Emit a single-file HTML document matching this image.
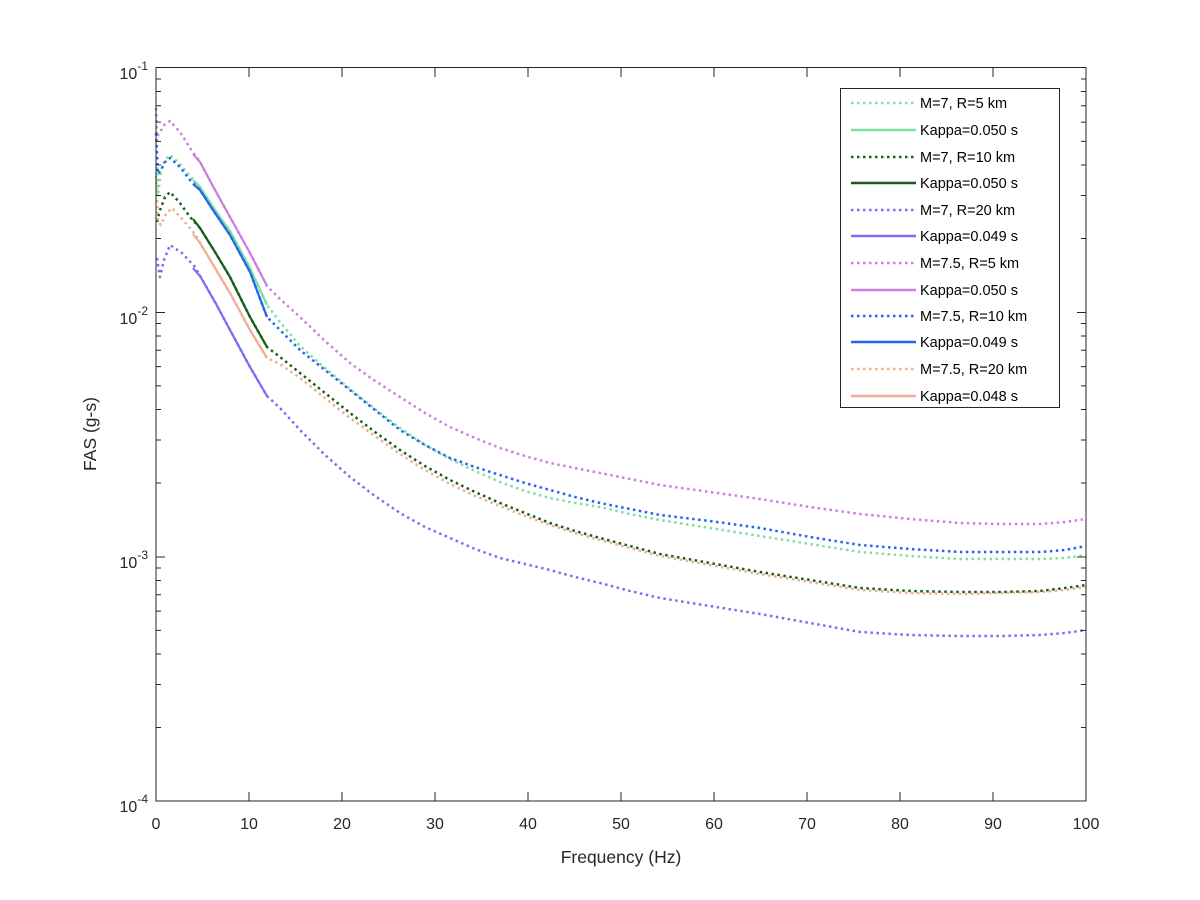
<!DOCTYPE html>
<html><head><meta charset="utf-8"><style>
html,body{margin:0;padding:0;background:#fff;}
svg{display:block;font-family:"Liberation Sans",Arial,sans-serif;}
</style></head><body>
<svg width="1200" height="900" viewBox="0 0 1200 900" xmlns="http://www.w3.org/2000/svg">
<rect width="1200" height="900" fill="#fff"/>
<g fill="none" stroke-linejoin="round">
<!-- solid segments -->
<polyline stroke="#cc7fe0" stroke-width="2.2" points="193,154 200,162 215,190 230,217 250,253 267,286"/>
<polyline stroke="#7ee0a0" stroke-width="2.2" points="193,180 200,187 215,210 230,231 250,268 267,305"/>
<polyline stroke="#2266ee" stroke-width="2.2" points="193,184 200,190 215,213 230,235 250,272 267,317"/>
<polyline stroke="#1a5c1a" stroke-width="2.2" points="193,219 200,228 215,252 230,277 250,317 267,347"/>
<polyline stroke="#eeb090" stroke-width="2.2" points="193,234 200,243 215,268 230,293 250,330 267,358"/>
<polyline stroke="#7b6ef6" stroke-width="2.2" points="193,268 200,276 215,302 230,330 250,367 267,396"/>
<!-- dotted -->
<g stroke-width="2.5" stroke-dasharray="2.5 3.5">
<polyline stroke="#cc7fe0" points="156,108 157,137 160,132 165,124 170,121 180,132 190,148 200,162 215,190 230,217 250,253 267,286 280,299 300,317 325,341 350,363 375,381 400,397 425,413 450,427 475,438 500,448 525,456 550,463 575,468 600,473 630,479 660,485 710,492 760,499 810,507 860,514 910,519 960,523 1000,524 1040,524 1065,522 1086,519"/>
<polyline stroke="#7ee0a0" points="157,167 158,195 161,170 165,160 170,155 180,164 190,176 200,187 215,210 230,231 250,268 267,305 280,322 300,346 325,368 350,389 375,409 400,428 425,445 450,459 475,471 500,482 525,491 550,498 575,503 600,507 630,514 660,520 710,528 760,536 810,544 860,552 910,556 960,559 1000,559 1040,559 1065,558 1086,555"/>
<polyline stroke="#2266ee" points="156,133 158,174 161,170 165,162 170,158 180,167 190,180 200,190 215,213 230,235 250,272 267,317 280,330 300,350 325,370 350,390 375,410 400,430 425,445 450,458 475,467 500,475 525,483 550,490 575,497 600,503 630,509 660,515 710,521 760,528 810,537 860,545 910,549 960,552 1000,552 1040,552 1065,550 1086,546"/>
<polyline stroke="#1a5c1a" points="157,222 160,210 165,197 170,192 180,203 190,217 200,228 215,252 230,277 250,317 267,347 280,357 300,373 325,393 350,413 375,432 400,450 425,466 450,480 475,492 500,503 525,513 550,523 575,531 600,538 630,546 660,554 710,563 760,572 810,580 860,588 910,591 960,592 1000,592 1040,591 1065,588 1086,585"/>
<polyline stroke="#eeb090" points="156,176 158,222 161,225 166,214 172,208 183,220 195,234 215,268 230,293 250,330 267,358 280,364 300,378 325,398 350,418 375,436 400,454 425,470 450,484 475,496 500,506 525,516 550,525 575,533 600,540 630,548 660,556 710,565 760,574 810,582 860,590 910,593 960,594 1000,593 1040,592 1065,590 1086,587"/>
<polyline stroke="#7b6ef6" points="157,258 160,277 164,260 170,245 182,253 195,267 215,302 230,330 250,367 267,396 280,408 300,430 325,455 350,477 375,496 400,513 425,527 450,538 475,549 500,558 525,564 550,570 575,577 600,583 630,591 660,598 710,606 760,614 810,623 860,632 910,635 960,636 1000,636 1040,635 1065,633 1086,630"/>
</g>
</g>
<!-- axes box -->
<rect x="156" y="67.5" width="930" height="733.5" fill="none" stroke="#262626" stroke-width="1"/>
<g stroke="#262626" stroke-width="1">
<path d="M249,801v-9M342,801v-9M435,801v-9M528,801v-9M621,801v-9M714,801v-9M807,801v-9M900,801v-9M993,801v-9
M249,68v9M342,68v9M435,68v9M528,68v9M621,68v9M714,68v9M807,68v9M900,68v9M993,68v9"/>
<path d="M156,312.5h9M156,557h9M1086,312.5h-9M1086,557h-9"/>
<path d="
M156,727.5h5M156,684.5h5M156,654h5M156,630.4h5M156,611.1h5M156,594.7h5M156,580.5h5M156,568h5
M156,483h5M156,440h5M156,409.5h5M156,385.9h5M156,366.6h5M156,350.2h5M156,336h5M156,323.5h5
M156,238.5h5M156,195.5h5M156,165h5M156,141.4h5M156,122.1h5M156,105.7h5M156,91.5h5M156,79h5
M1086,727.5h-5M1086,684.5h-5M1086,654h-5M1086,630.4h-5M1086,611.1h-5M1086,594.7h-5M1086,580.5h-5M1086,568h-5
M1086,483h-5M1086,440h-5M1086,409.5h-5M1086,385.9h-5M1086,366.6h-5M1086,350.2h-5M1086,336h-5M1086,323.5h-5
M1086,238.5h-5M1086,195.5h-5M1086,165h-5M1086,141.4h-5M1086,122.1h-5M1086,105.7h-5M1086,91.5h-5M1086,79h-5"/>
</g>
<g fill="#262626" font-size="16" text-anchor="middle">
<text x="156" y="829">0</text><text x="249" y="829">10</text><text x="342" y="829">20</text>
<text x="435" y="829">30</text><text x="528" y="829">40</text><text x="621" y="829">50</text>
<text x="714" y="829">60</text><text x="807" y="829">70</text><text x="900" y="829">80</text>
<text x="993" y="829">90</text><text x="1086" y="829">100</text>
</g>
<g fill="#262626" font-size="16" text-anchor="end">
<text x="148" y="79">10<tspan font-size="12" dy="-9">-1</tspan></text>
<text x="148" y="324">10<tspan font-size="12" dy="-9">-2</tspan></text>
<text x="148" y="568">10<tspan font-size="12" dy="-9">-3</tspan></text>
<text x="148" y="812">10<tspan font-size="12" dy="-9">-4</tspan></text>
</g>
<text x="621" y="863" font-size="17.5" fill="#262626" text-anchor="middle">Frequency (Hz)</text>
<text transform="translate(96,434) rotate(-90)" font-size="17.5" fill="#262626" text-anchor="middle">FAS (g-s)</text>
<!-- legend -->
<rect x="840.5" y="88.5" width="219" height="319" fill="#fff" stroke="#262626" stroke-width="1"/>
<g stroke-width="2.5" fill="none">
<line x1="851" y1="103" x2="916" y2="103" stroke="#7ee0a0" stroke-dasharray="2.5 3.5"/>
<line x1="851" y1="130" x2="916" y2="130" stroke="#7ee0a0"/>
<line x1="851" y1="157" x2="916" y2="157" stroke="#1a5c1a" stroke-dasharray="2.5 3.5"/>
<line x1="851" y1="183" x2="916" y2="183" stroke="#1a5c1a"/>
<line x1="851" y1="210" x2="916" y2="210" stroke="#7b6ef6" stroke-dasharray="2.5 3.5"/>
<line x1="851" y1="236" x2="916" y2="236" stroke="#7b6ef6"/>
<line x1="851" y1="263" x2="916" y2="263" stroke="#cc7fe0" stroke-dasharray="2.5 3.5"/>
<line x1="851" y1="290" x2="916" y2="290" stroke="#cc7fe0"/>
<line x1="851" y1="316" x2="916" y2="316" stroke="#2266ee" stroke-dasharray="2.5 3.5"/>
<line x1="851" y1="342" x2="916" y2="342" stroke="#2266ee"/>
<line x1="851" y1="369" x2="916" y2="369" stroke="#eeb090" stroke-dasharray="2.5 3.5"/>
<line x1="851" y1="396" x2="916" y2="396" stroke="#eeb090"/>
</g>
<g fill="#000" font-size="14.5">
<text x="920" y="108">M=7, R=5 km</text>
<text x="920" y="135">Kappa=0.050 s</text>
<text x="920" y="162">M=7, R=10 km</text>
<text x="920" y="188">Kappa=0.050 s</text>
<text x="920" y="215">M=7, R=20 km</text>
<text x="920" y="241">Kappa=0.049 s</text>
<text x="920" y="268">M=7.5, R=5 km</text>
<text x="920" y="295">Kappa=0.050 s</text>
<text x="920" y="321">M=7.5, R=10 km</text>
<text x="920" y="347">Kappa=0.049 s</text>
<text x="920" y="374">M=7.5, R=20 km</text>
<text x="920" y="401">Kappa=0.048 s</text>
</g>
</svg>
</body></html>
